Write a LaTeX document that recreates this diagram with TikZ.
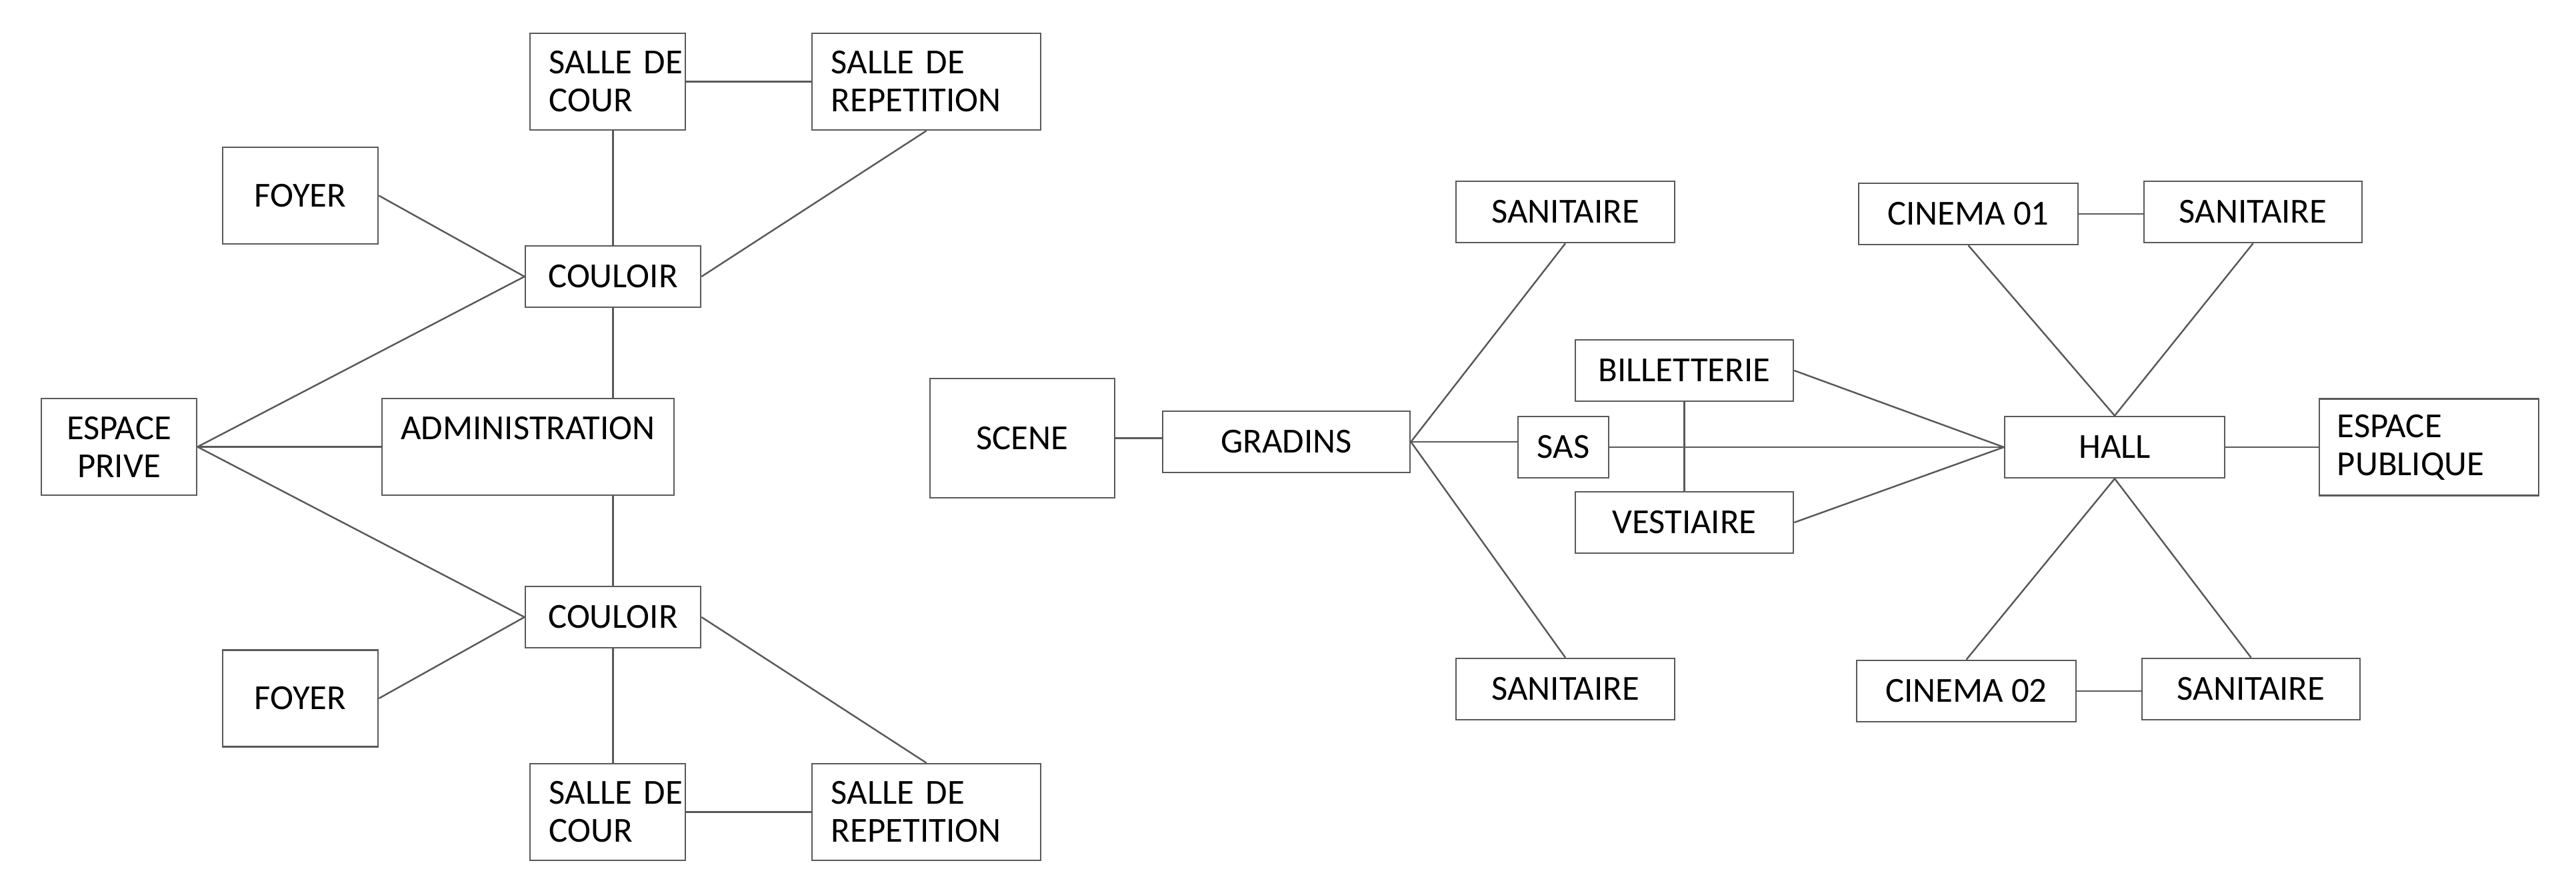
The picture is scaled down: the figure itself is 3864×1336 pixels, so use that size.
\documentclass[tikz,border=0pt]{standalone}
\usepackage{fontspec}
\setmainfont{Carlito}
\definecolor{edgegray}{HTML}{595959}

\begin{document}
\begin{tikzpicture}[x=0.01cm,y=-0.01cm,
  room/.style={draw=edgegray,line width=0.7pt,inner sep=0pt,
    font=\fontsize{15}{16.2}\selectfont},
  wide/.style={room,minimum width=#1,minimum height=1.45cm},
  flat/.style={room,minimum width=#1,minimum height=0.92cm},
  link/.style={draw=edgegray,line width=0.7pt}]
 \useasboundingbox (0,0) rectangle (3864,1336);
 % espace prive
 \node[wide=2.33cm,text width=1.75cm,align=left] (salleA) at (911.5,122.5) {SALLE~DE\\COUR};
 \node[wide=3.43cm,text width=2.85cm,align=left] (repetA) at (1389.5,122.5) {SALLE~DE\\REPETITION};
 \node[wide=2.33cm] (foyerA) at (450.5,293.5) {FOYER};
 \node[flat=2.63cm] (couloirA) at (919.5,415) {COULOIR};
 \node[wide=2.33cm,align=center] (prive) at (178.5,670.5) {ESPACE\\PRIVE};
 \node[wide=4.38cm,align=center] (admin) at (792,670.5) {ADMINISTRATION\\\mbox{}};
 \node[flat=2.63cm] (couloirB) at (919.5,926) {COULOIR};
 \node[wide=2.33cm] (foyerB) at (450.5,1048) {FOYER};
 \node[wide=2.33cm,text width=1.75cm,align=left] (salleB) at (911.5,1218.5) {SALLE~DE\\COUR};
 \node[wide=3.43cm,text width=2.85cm,align=left] (repetB) at (1389.5,1218.5) {SALLE~DE\\REPETITION};
 % espace public
 \node[room,minimum width=2.77cm,minimum height=1.79cm] (scene) at (1533.5,657.5) {SCENE};
 \node[flat=3.71cm] (gradins) at (1929.5,663) {GRADINS};
 \node[flat=3.28cm] (sanitA) at (2348,318) {SANITAIRE};
 \node[flat=3.28cm] (sanitB) at (2348,1034) {SANITAIRE};
 \node[flat=1.36cm] (sas) at (2345,671) {SAS};
 \node[flat=3.27cm] (billet) at (2526.5,556) {BILLETTERIE};
 \node[flat=3.27cm] (vest) at (2526.5,784) {VESTIAIRE};
 \node[flat=3.30cm] (hall) at (3172,671) {HALL};
 \node[flat=3.29cm] (cinemaA) at (2952.5,321) {CINEMA 01};
 \node[flat=3.27cm] (sanitC) at (3379.5,318) {SANITAIRE};
 \node[flat=3.29cm] (cinemaB) at (2949.5,1037) {CINEMA 02};
 \node[flat=3.27cm] (sanitD) at (3376.5,1034) {SANITAIRE};
 \node[wide=3.29cm,text width=2.75cm,align=left] (publique) at (3643.5,671) {ESPACE\\PUBLIQUE};

 \draw[link] (salleA.east) -- (salleA.east -| repetA.west);
 \draw[link] (couloirA.north) -- (couloirA.north |- salleA.south);
 \draw[link] (repetA.south) -- (couloirA.east);
 \draw[link] (foyerA.east) -- (couloirA.west);
 \foreach \n in {couloirA,couloirB} \draw[link] (prive.east) -- (\n.west);
 \draw[link] (prive.east) -- (admin.west);
 \draw[link] (couloirA.south) -- (couloirA.south |- admin.north);
 \draw[link] (couloirB.north) -- (couloirB.north |- admin.south);
 \draw[link] (foyerB.east) -- (couloirB.west);
 \draw[link] (couloirB.south) -- (couloirB.south |- salleB.north);
 \draw[link] (couloirB.east) -- (repetB.north);
 \draw[link] (salleB.east) -- (salleB.east -| repetB.west);

 \draw[link] (scene.east) -- (scene.east -| gradins.west);
 \draw[link] (gradins.east) -- (sanitA.south);
 \draw[link] (gradins.east) -- (sanitB.north);
 \draw[link] (gradins.east) -- (gradins.east -| sas.west);
 \draw[link] (sas.east) -- (hall.west);
 \draw[link] (billet.south) -- (vest.north);
 \foreach \n in {billet,vest} \draw[link] (\n.east) -- (hall.west);
 \foreach \n in {cinemaA,sanitC} \draw[link] (\n.south) -- (hall.north);
 \foreach \n in {cinemaB,sanitD} \draw[link] (hall.south) -- (\n.north);
 \draw[link] (cinemaA.east) -- (cinemaA.east -| sanitC.west);
 \draw[link] (cinemaB.east) -- (cinemaB.east -| sanitD.west);
 \draw[link] (hall.east) -- (publique.west);
\end{tikzpicture}
\end{document}
